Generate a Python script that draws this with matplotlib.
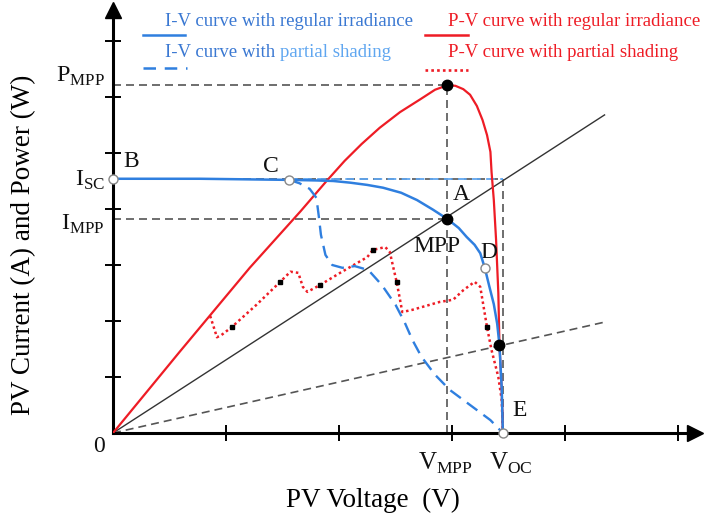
import matplotlib
matplotlib.use("Agg")
import matplotlib.pyplot as plt

plt.rcParams["font.family"] = ["Liberation Serif", "DejaVu Serif"]
plt.rcParams["mathtext.fontset"] = "custom"
plt.rcParams["mathtext.rm"] = "Liberation Serif"

BLUE = "#2f7fdf"
TEXT_BLUE = "#3a78d2"
LIGHT_BLUE = "#5fa6f0"
RED = "#ee1c25"
GREY = "#555555"

# operating points
V_MPP, V_OC = 2.96, 3.45
I_SC, I_MPP = 4.54, 3.82
P_MPP = 6.21

# I-V curve, regular irradiance
iv_v = [0.0, 0.77, 1.56, 1.80, 1.95, 2.10, 2.25, 2.39, 2.55, 2.69, 2.83, 2.96,
        3.06, 3.13, 3.20, 3.25, 3.29, 3.33, 3.37, 3.40, 3.42, 3.44, 3.45]
iv_i = [4.54, 4.54, 4.52, 4.51, 4.50, 4.47, 4.43, 4.38, 4.29, 4.16, 3.99, 3.82,
        3.66, 3.50, 3.36, 3.21, 2.95, 2.62, 2.30, 1.95, 1.57, 0.80, 0.0]

# P-V curve, regular irradiance
pv_v = [0.0, 0.59, 1.21, 1.66, 1.89, 2.05, 2.20, 2.36, 2.54, 2.72, 2.85, 2.96,
        3.03, 3.10, 3.16, 3.22, 3.27, 3.31, 3.34, 3.35, 3.37, 3.39, 3.41, 3.42,
        3.44, 3.45]
pv_p = [0.0, 1.45, 2.95, 3.96, 4.50, 4.86, 5.16, 5.45, 5.73, 5.96, 6.13, 6.21,
        6.20, 6.14, 6.04, 5.84, 5.59, 5.32, 5.02, 4.66, 4.16, 3.45, 2.50, 1.57,
        0.77, 0.0]

# I-V curve, partial shading
sh_v = [1.56, 1.65, 1.74, 1.80, 1.82, 1.84, 1.88, 1.94, 2.03, 2.14, 2.26, 2.38,
        2.50, 2.58, 2.65, 2.73, 2.85, 2.98, 3.16, 3.34, 3.45]
sh_i = [4.52, 4.46, 4.36, 4.20, 3.89, 3.54, 3.18, 3.00, 2.95, 2.98, 2.91, 2.64,
        2.29, 1.98, 1.66, 1.36, 1.04, 0.77, 0.50, 0.23, 0.0]

# P-V curve, partial shading
ps_v = [0.86, 0.92, 0.96, 1.05, 1.27, 1.48, 1.57, 1.64, 1.68, 1.72, 1.83, 2.01,
        2.25, 2.30, 2.41, 2.45, 2.48, 2.51, 2.54, 2.56, 2.65, 2.89, 3.01, 3.10,
        3.20, 3.25, 3.31, 3.35, 3.41, 3.44, 3.45]
ps_p = [2.09, 1.71, 1.75, 1.89, 2.29, 2.70, 2.88, 2.86, 2.61, 2.52, 2.64, 2.86,
        3.14, 3.27, 3.32, 3.23, 2.96, 2.70, 2.38, 2.16, 2.20, 2.34, 2.38, 2.55,
        2.70, 2.61, 1.89, 1.48, 1.00, 0.59, 0.0]

# sampled points on the shaded P-V curve
dot_v = [1.05, 1.48, 1.83, 2.30, 2.51, 3.31]
dot_p = [1.89, 2.70, 2.64, 3.27, 2.70, 1.89]

# load lines through the origin
load_v = [0.0, 4.35]
load_hi = [0.0, 5.68]
load_lo = [0.0, 1.98]

# points B, C, D, E and the crossing of the low load line
open_v = [0.0, 1.56, 3.29, V_OC]
open_i = [I_SC, 4.52, 2.95, 0.0]
cross_v, cross_i = 3.42, 1.57

XMAX, YMAX = 5.15, 7.55


def main() -> None:
    fig = plt.figure(figsize=(7.08, 5.17), dpi=100)
    ax = fig.add_axes([113 / 708, 84 / 517, XMAX * 113 / 708, YMAX * 56 / 517])
    ax.set_xlim(0, XMAX)
    ax.set_ylim(0, YMAX)
    ax.patch.set_alpha(0)

    draw_axes(ax)
    draw_guides(ax)
    draw_curves(ax)
    draw_points(ax)
    draw_labels(ax, fig)
    draw_legend(ax)

    fig.savefig("out.png", dpi=100)


def draw_axes(ax) -> None:
    for side in ("top", "right"):
        ax.spines[side].set_visible(False)
    for side in ("left", "bottom"):
        ax.spines[side].set_linewidth(2.2)
    ax.set_xticks([1, 2, 3, 4, 5])
    ax.set_yticks([1, 2, 3, 4, 5, 6, 7])
    ax.set_xticklabels([])
    ax.set_yticklabels([])
    ax.tick_params(direction="inout", length=11, width=1.4)
    ax.plot(1, 0, ">k", markersize=11, transform=ax.transAxes, clip_on=False)
    ax.plot(0, 1, "^k", markersize=11, transform=ax.transAxes, clip_on=False)


def draw_guides(ax) -> None:
    dash = dict(color=GREY, lw=1.2, ls=(0, (4.8, 3)), zorder=1)
    ax.plot([0, V_MPP], [P_MPP, P_MPP], **dash)
    ax.plot([0, V_MPP], [I_MPP, I_MPP], **dash)
    ax.plot([0, V_OC], [I_SC, I_SC], **dash)
    ax.plot([V_MPP, V_MPP], [0, P_MPP], **dash)
    ax.plot([V_OC, V_OC], [0, I_SC], **dash)
    ax.plot([1.56, V_OC], [I_SC, I_SC], color=LIGHT_BLUE, lw=1.3,
            ls=(0, (4.8, 3)), zorder=2)

    ax.plot(load_v, load_hi, color="#333333", lw=1.0, zorder=2)
    ax.plot(load_v, load_lo, color=GREY, lw=1.2, ls=(0, (4.8, 3)), zorder=2)


def draw_curves(ax) -> None:
    ax.plot(pv_v, pv_p, color=RED, lw=1.6, zorder=3)
    ax.plot(ps_v, ps_p, color=RED, lw=1.8, ls=(0, (1, 1.2)), zorder=3)
    ax.plot(sh_v, sh_i, color=BLUE, lw=1.7, ls=(0, (5.5, 3.2)), zorder=3)
    ax.plot(iv_v, iv_i, color=BLUE, lw=1.8, zorder=4)


def draw_points(ax) -> None:
    ax.plot(dot_v, dot_p, "s", color="black", markersize=3.2, zorder=6)
    ax.plot([V_MPP, V_MPP, cross_v], [P_MPP, I_MPP, cross_i], "o",
            color="black", markersize=7.5, zorder=7)
    ax.plot(open_v, open_i, "o", mfc="white", mec="#888888", mew=1.0,
            markersize=6.5, zorder=7, clip_on=False)


def draw_labels(ax, fig) -> None:
    big = dict(fontsize=17, color="#111111", ha="center", va="center")
    ax.text(0.16, 4.84, "B", **big)
    ax.text(1.40, 4.76, "C", **big)
    ax.text(3.08, 4.25, "A", **big)
    ax.text(2.87, 3.33, "MPP", **big)
    ax.text(3.33, 3.23, "D", **big)
    ax.text(3.60, 0.41, "E", **big)
    ax.text(-0.12, -0.25, "0", **big)

    side = dict(fontsize=17.5, color="#111111", ha="right", va="center",
                clip_on=False)
    ax.text(-0.07, P_MPP + 0.15, r"$\mathrm{P}_{\mathrm{MPP}}$", **side)
    ax.text(-0.07, I_SC - 0.03, r"$\mathrm{I}_{\mathrm{SC}}$", **side)
    ax.text(-0.07, I_MPP - 0.10, r"$\mathrm{I}_{\mathrm{MPP}}$", **side)

    bottom = dict(fontsize=18, color="#111111", ha="center", va="center")
    ax.text(V_MPP - 0.02, -0.55, r"$\mathrm{V}_{\mathrm{MPP}}$", **bottom)
    ax.text(V_OC + 0.07, -0.55, r"$\mathrm{V}_{\mathrm{OC}}$", **bottom)

    fig.text(373 / 708, 1 - 500 / 517, "PV Voltage  (V)", fontsize=19.5,
             ha="center", va="center")
    fig.text(24 / 708, 1 - 245 / 517, "PV Current (A) and Power (W)",
             fontsize=19.5, ha="center", va="center", rotation=90)


def draw_legend(ax) -> None:
    def ypix(py):
        return (433 - py) / 56

    def xpix(px):
        return (px - 113) / 113

    txt = dict(fontsize=13.5, va="center", ha="left")
    ax.text(xpix(165), ypix(22), "I-V curve with regular irradiance",
            color=TEXT_BLUE, **txt)
    head = ax.text(xpix(165), ypix(53), "I-V curve with ",
                   color=TEXT_BLUE, **txt)
    ax.annotate("partial shading", xy=(1, 0.5), xycoords=head,
                color=LIGHT_BLUE, **txt)
    ax.text(xpix(448), ypix(22), "P-V curve with regular irradiance",
            color=RED, **txt)
    ax.text(xpix(448), ypix(53), "P-V curve with partial shading",
            color=RED, **txt)

    ax.plot([xpix(143), xpix(185)], [ypix(35), ypix(35)], color=BLUE, lw=1.8)
    ax.plot([xpix(143), xpix(187)], [ypix(68), ypix(68)], color=BLUE, lw=1.8,
            ls=(0, (5, 3.5)))
    ax.plot([xpix(425), xpix(468)], [ypix(35), ypix(35)], color=RED, lw=1.8)
    ax.plot([xpix(425), xpix(468)], [ypix(70), ypix(70)], color=RED, lw=1.9,
            ls=(0, (1, 1.2)))


if __name__ == "__main__":
    main()
